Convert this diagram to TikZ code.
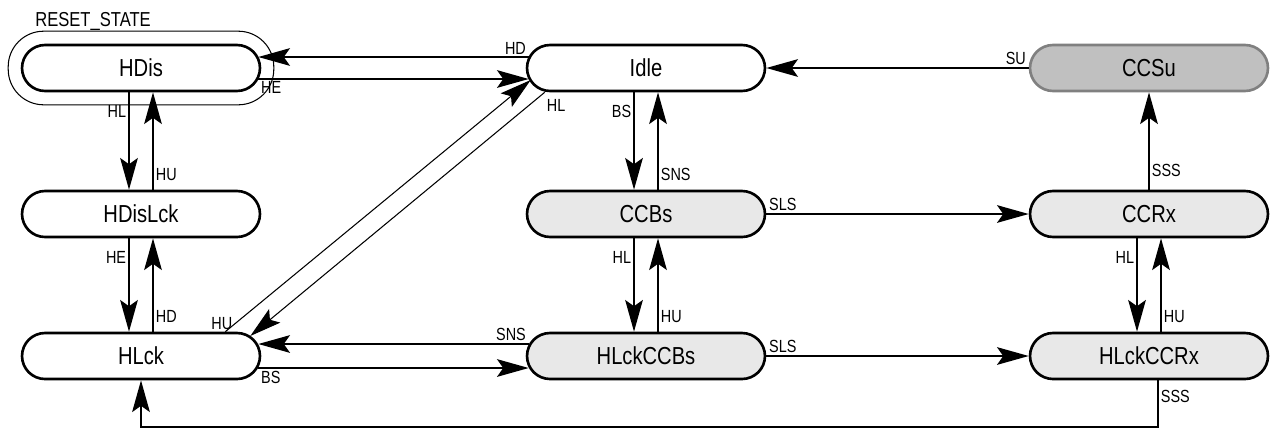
\documentclass[tikz,border=0pt]{standalone}
\usepackage{fontspec}
\setmainfont{Liberation Sans}
\newfontfamily\narrowfont[FakeStretch=0.82]{Liberation Sans}
\usetikzlibrary{arrows.meta,calc,fit}
\definecolor{StateGray}{RGB}{232,232,232}
\definecolor{SuspGray}{RGB}{192,192,192}
\definecolor{SuspEdge}{RGB}{128,128,128}

\begin{document}
\begin{tikzpicture}[x=0.02cm,y=-0.02cm,
  st/.style={draw,line width=1.5pt,rounded corners=0.46cm,minimum width=4.76cm,
             minimum height=0.92cm,inner sep=0pt,font=\narrowfont\fontsize{14}{16}\selectfont},
  cst/.style={st,fill=StateGray},
  sst/.style={st,fill=SuspGray,draw=SuspEdge},
  tr/.style={-{Stealth[length=18pt,width=10pt,inset=3.5pt]},line width=1.3pt},
  lbl/.style={font=\narrowfont\fontsize{10}{12}\selectfont,inner sep=1pt},
]
\useasboundingbox (0,0) rectangle (1270,430);
\node[st] (hdis) at (141,68) {HDis};
\node[st] (idle) at (646,68) {Idle};
\node[sst] (ccsu) at (1149,68) {CCSu};
\node[st] (hdislck) at (141,214) {HDisLck};
\node[cst] (ccbs) at (646,214) {CCBs};
\node[cst] (ccrx) at (1149,214) {CCRx};
\node[st] (hlck) at (141,356) {HLck};
\node[cst] (hlckccbs) at (646,356) {HLckCCBs};
\node[cst] (hlckccrx) at (1149,356) {HLckCCRx};
\node[draw,line width=0.6pt,rounded corners=0.71cm,inner sep=0.25cm,fit=(hdis)] (reset) {};
\node[font=\narrowfont\fontsize{11.5}{13}\selectfont,anchor=base west,inner sep=0pt] (resetlbl) at (35,26) {RESET\_STATE};
% vertical pairs
\foreach \a/\b/\l in {hdis/hdislck/HL,hdislck/hlck/HE,idle/ccbs/BS,ccbs/hlckccbs/HL,ccrx/hlckccrx/HL}
  \draw[tr] ($(\a.south)+(-12,0)$) -- node[lbl,left,pos=0.2]{\l} ($(\b.north)+(-12,0)$);
\foreach \a/\b/\l in {hdislck/hdis/HU,hlck/hdislck/HD,ccbs/idle/SNS,hlckccbs/ccbs/HU,hlckccrx/ccrx/HU}
  \draw[tr] ($(\a.north)+(12,0)$) -- node[lbl,right,pos=0.16]{\l} ($(\b.south)+(12,0)$);
\draw[tr] (ccrx) -- node[lbl,right,pos=0.2]{SSS} (ccsu);
% horizontal pairs
\draw[tr] ($(idle.west)+(3,-11)$) -- node[lbl,above left,pos=0]{HD} ($(hdis.east)+(-3,-11)$);
\draw[tr] ($(hdis.east)+(-3,11)$) -- node[lbl,below right,pos=0]{HE} ($(idle.west)+(3,11)$);
\draw[tr] ($(hlckccbs.west)+(3,-12)$) -- node[lbl,above left,pos=0]{SNS} ($(hlck.east)+(-3,-12)$);
\draw[tr] ($(hlck.east)+(-3,12)$) -- node[lbl,below right,pos=0]{BS} ($(hlckccbs.west)+(3,12)$);
\draw[tr] (ccbs) -- node[lbl,above right,pos=0]{SLS} (ccrx);
\draw[tr] (hlckccbs) -- node[lbl,above right,pos=0]{SLS} (hlckccrx);
\draw[tr] (ccsu) -- node[lbl,above left,pos=0]{SU} (idle);
% diagonals
\draw[tr,line width=0.6pt] ($(hlck.north east)+(-36,0)$) -- node[lbl,above,pos=0,xshift=-2pt]{HU} ($(idle.west)+(5,12)$);
\draw[tr,line width=0.6pt] ($(idle.south west)+(19,0)$) -- node[lbl,below right,pos=0,yshift=-3pt]{HL} ($(hlck.east)+(-11,-20)$);
% back to HLck
\draw[tr] ($(hlckccrx.south)+(9,0)$) -- node[lbl,right,pos=0.35]{SSS} ++(0,47) -| (hlck.south);
\end{tikzpicture}
\end{document}
